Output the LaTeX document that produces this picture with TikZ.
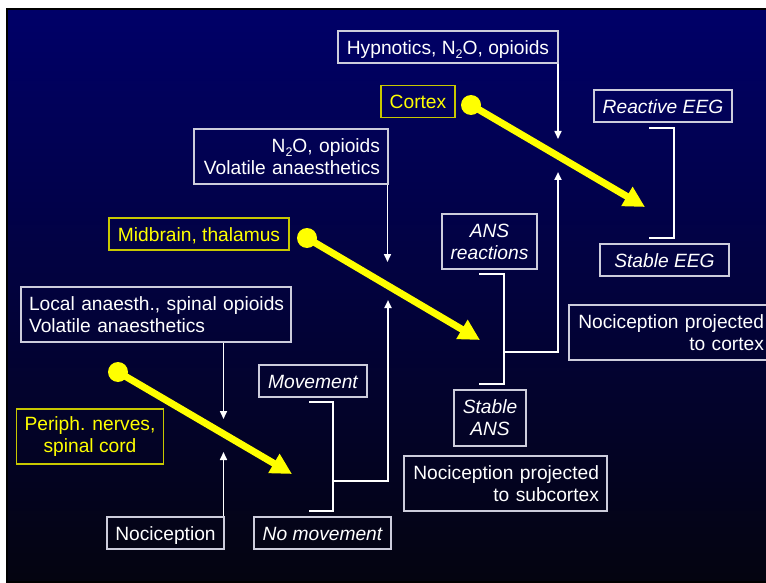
\documentclass[tikz,border=0pt]{standalone}
\usepackage{fontspec}
\setmainfont{Liberation Sans}
\usetikzlibrary{arrows.meta}
\definecolor{navytop}{RGB}{0,0,104}
\definecolor{navymid}{RGB}{0,0,78}
\definecolor{navybot}{RGB}{4,4,16}
\definecolor{boxgray}{RGB}{205,205,220}
\definecolor{ybord}{RGB}{200,200,0}
\definecolor{ytext}{RGB}{255,255,0}
\newcommand{\Ntwo}{N\raisebox{-0.22em}{\fontsize{12.5}{12}\selectfont 2}O}
\tikzset{
  txt/.style={font=\fontsize{19.2}{22}\selectfont},
  itxt/.style={font=\fontsize{19.2}{22}\selectfont\itshape},
  wbox/.style={txt, draw=boxgray, line width=1.1pt, text=white, inner xsep=8pt, inner ysep=0pt,
    minimum height=32pt, text height=15pt, text depth=0.5pt},
  wbox2/.style={txt, draw=boxgray, line width=1.1pt, text=white, inner xsep=8pt, inner ysep=0pt,
    minimum height=55pt},
  ybox/.style={wbox, draw=ybord, text=ytext},
  ybox2/.style={wbox2, draw=ybord, text=ytext},
  warrow/.style={draw=white, line width=1.6pt, -{Triangle[length=8pt,width=7pt]}},
  yarrow/.style={draw=ytext, line width=7pt, -{Triangle[length=21pt,width=21pt]}},
  bracket/.style={draw=white, line width=2.8pt},
  link/.style={draw=white, line width=2pt}
}
\begin{document}
\begin{tikzpicture}[x=1pt,y=-1pt]
\useasboundingbox (0,0) rectangle (766,583);
\clip (0,0) rectangle (766,583);
\fill[white] (0,0) rectangle (766,583);
\shade[top color=navytop, middle color=navymid, bottom color=navybot] (7,9) rectangle (790,582);
\draw[black, line width=2pt] (7,9) rectangle (790,582);

% boxes
\node[wbox, minimum width=220pt] (hyp) at (448,47) {Hypnotics, \Ntwo, opioids};
\node[ybox, minimum width=74pt] (cortex) at (418,101.5) {Cortex};
\node[wbox2, text width=178pt, align=right] (n2o) at (291,156.5) {\mbox{\Ntwo, opioids}\\\mbox{Volatile anaesthetics}};
\node[ybox, minimum width=180pt] (mid) at (199,234) {Midbrain, thalamus};
\node[wbox2, text width=254pt, align=left] (local) at (156,314.5) {\mbox{Local anaesth., spinal opioids}\\\mbox{Volatile anaesthetics}};
\node[ybox2, minimum width=146pt, align=center] (periph) at (90,436.5) {Periph. nerves,\\spinal cord};
\node[wbox, minimum width=117pt] (noci) at (165.5,533) {Nociception};
\node[wbox, itxt, minimum width=108pt] (move) at (313,381) {Movement};
\node[wbox, itxt, minimum width=137pt] (nomove) at (322.5,533) {No movement};
\node[wbox2, itxt, minimum width=95pt, align=center] (ansr) at (489.5,241.5) {ANS\\reactions};
\node[wbox2, itxt, minimum width=72pt, minimum height=56pt, align=center] (stans) at (490,418) {Stable\\ANS};
\node[wbox2, text width=187pt, align=right] (nps) at (505.5,483.5) {\mbox{Nociception projected}\\\mbox{to subcortex}};
\node[wbox2, text width=187pt, align=right] (npc) at (670.5,332.5) {\mbox{Nociception projected}\\\mbox{to cortex}};
\node[wbox, itxt, minimum width=138pt] (reeg) at (663,106) {Reactive EEG};
\node[wbox, itxt, minimum width=129pt] (seeg) at (664.5,260) {Stable EEG};

% white drug / nociception arrows
\coordinate (hypend) at (558,139);
\coordinate (n2oend) at (387.5,262);
\coordinate (locend) at (223.5,419);
\coordinate (nocend) at (223.5,452);
\draw[warrow] (hypend |- hyp.south) -- (hypend);
\draw[warrow] (n2oend |- n2o.south) -- (n2oend);
\draw[warrow] (locend |- local.south) -- (locend);
\draw[warrow] (nocend |- noci.north) -- (nocend);

% brackets
\coordinate (eegA) at (649,128); \coordinate (eegB) at (674,128);
\coordinate (eegC) at (674,238); \coordinate (eegD) at (649,238);
\draw[bracket] (eegA) -- (eegB) -- (eegC) -- (eegD);
\coordinate (ansA) at (479,274); \coordinate (ansB) at (504,274);
\coordinate (ansC) at (504,384); \coordinate (ansD) at (479,384);
\draw[bracket] (ansA) -- (ansB) -- (ansC) -- (ansD);
\coordinate (mvA) at (309,402); \coordinate (mvB) at (333,402);
\coordinate (mvC) at (333,511); \coordinate (mvD) at (309,511);
\draw[bracket] (mvA) -- (mvB) -- (mvC) -- (mvD);

% projection connectors
\coordinate (mvmid) at (333,481); \coordinate (mvtip) at (388,300);
\draw[link, -{Triangle[length=8pt,width=7pt]}] (mvmid) -| (mvtip);
\coordinate (ansmid) at (504,352); \coordinate (anstip) at (558,172);
\draw[link, -{Triangle[length=8pt,width=7pt]}] (ansmid) -| (anstip);

% yellow level arrows
\coordinate (cdot) at (471,105); \coordinate (ctip) at (645,207);
\coordinate (mdot) at (307,238); \coordinate (mtip) at (480,340);
\coordinate (pdot) at (118,372); \coordinate (ptip) at (292,474);
\foreach \d/\t in {cdot/ctip, mdot/mtip, pdot/ptip}{
  \draw[yarrow] (\d) -- (\t);
  \fill[ytext] (\d) circle (10pt);
}
\end{tikzpicture}
\end{document}
